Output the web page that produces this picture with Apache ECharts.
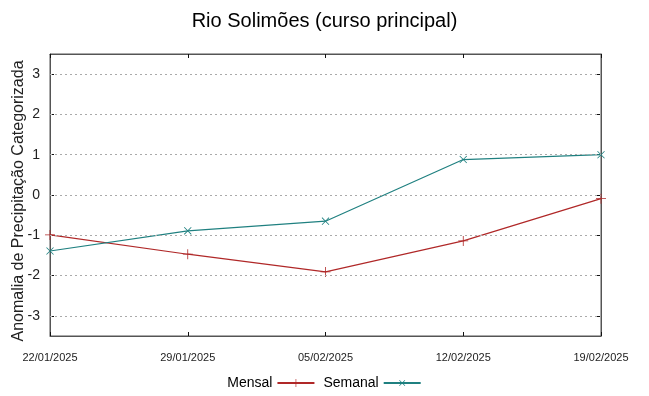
<!DOCTYPE html>
<html><head><meta charset="utf-8">
<script src="https://cdn.jsdelivr.net/npm/echarts@6/dist/echarts.min.js"></script>
<style>html,body{margin:0;padding:0;background:#fff}#c{width:649px;height:396px}</style>
</head><body><div id="c"></div>
<script>
const categories = ['22/01/2025','29/01/2025','05/02/2025','12/02/2025','19/02/2025'];
const mensal = [-0.99, -1.47, -1.91, -1.14, -0.09];
const semanal = [-1.39, -0.89, -0.65, 0.88, 1.00];
const yTicks = [-3, -2, -1, 0, 1, 2, 3];
const yTitle = 'Anomalia de Precipitação Categorizada';

const plusPath = 'path://M4.6,0H5.4V10H4.6ZM0,4.6H10V5.4H0Z';
const chart = echarts.init(document.getElementById('c'));
const gridLines = yTicks.map(v => ({yAxis: v}));
const font = 'Liberation Sans';
const tickStyle = {color: '#111', width: 1};
chart.setOption({
  animation: false,
  title: {text: 'Rio Solimões (curso principal)', left: 'center', top: 6,
    textStyle: {fontFamily: font, fontSize: 20, fontWeight: 'normal', color: '#000'}},
  graphic: [{type: 'text', x: 19, y: 201, rotation: Math.PI / 2,
    style: {text: yTitle, font: '16px "Liberation Sans"', fill: '#222', align: 'center', verticalAlign: 'middle'}}],
  grid: {left: 50, right: 48, top: 54, bottom: 60, show: true, borderColor: '#555', borderWidth: 1,
    outerBoundsMode: 'none', containLabel: false},
  legend: {bottom: 1, left: 'center', align: 'right', itemWidth: 37, itemHeight: 10, itemGap: 8,
    textStyle: {fontFamily: font, fontSize: 14, color: '#000'},
    data: ['Mensal', 'Semanal']},
  xAxis: [
    {type: 'category', data: categories, boundaryGap: false, position: 'bottom',
      axisLine: {onZero: false, lineStyle: {color: '#555'}},
      axisTick: {inside: true, length: 4, lineStyle: tickStyle},
      axisLabel: {fontFamily: font, fontSize: 11, color: '#222', margin: 16}},
    {type: 'category', data: categories, boundaryGap: false, position: 'top',
      axisLine: {onZero: false, lineStyle: {color: '#555'}},
      axisTick: {inside: true, length: 4, lineStyle: tickStyle},
      axisLabel: {show: false}}
  ],
  yAxis: [
    {type: 'value', min: -3.5, max: 3.5, position: 'left',
      axisLine: {show: true, onZero: false, lineStyle: {color: '#555'}},
      axisTick: {show: true, inside: true, length: 4, customValues: yTicks, lineStyle: tickStyle},
      axisLabel: {customValues: yTicks, fontFamily: font, fontSize: 14, color: '#222', margin: 10},
      splitLine: {show: false}},
    {type: 'value', min: -3.5, max: 3.5, position: 'right',
      axisLine: {show: true, onZero: false, lineStyle: {color: '#555'}},
      axisTick: {show: true, inside: true, length: 4, customValues: yTicks, lineStyle: tickStyle},
      axisLabel: {show: false},
      splitLine: {show: false}}
  ],
  series: [
    {name: 'Mensal', type: 'line', data: mensal, color: '#b02828',
      lineStyle: {width: 1.2}, symbol: plusPath, symbolSize: 10, showAllSymbol: true,
      markLine: {silent: true, symbol: 'none', label: {show: false},
        lineStyle: {type: [2, 3], color: '#aaa', width: 1}, data: gridLines}},
    {name: 'Semanal', type: 'line', data: semanal, color: '#1f8080',
      lineStyle: {width: 1.2}, symbol: plusPath, symbolRotate: 45, symbolSize: 10, showAllSymbol: true}
  ]
});
</script></body></html>
